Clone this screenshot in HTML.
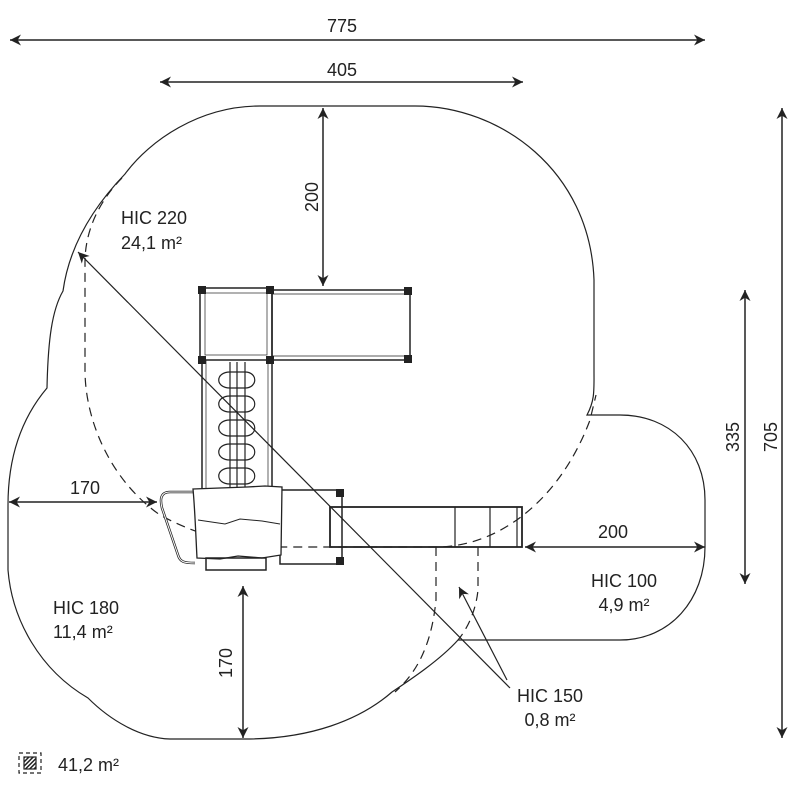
<!DOCTYPE html>
<html><head><meta charset="utf-8"><style>
html,body{margin:0;padding:0;background:#fff;}
svg{display:block;}
text{font-family:"Liberation Sans",sans-serif;fill:#222;}
</style></head><body>
<svg width="798" height="798" viewBox="0 0 798 798" xmlns="http://www.w3.org/2000/svg">
<defs>
<marker id="a" viewBox="0 0 10 10" refX="10" refY="5" markerWidth="13" markerHeight="11" orient="auto-start-reverse" markerUnits="userSpaceOnUse"><path d="M0,0 L10,5 L0,10 L3,5 z" fill="#222"/></marker>
<pattern id="h" width="3" height="3" patternUnits="userSpaceOnUse" patternTransform="rotate(45)"><rect width="1.5" height="3" fill="#222"/></pattern>
</defs>
<g fill="none" stroke="#222" stroke-width="1.2">
<path d="M587,415 C595,400 594,390 594,370 L594,280 C590,170 500,106 415,106 L260,106 C200,106 150,140 125,174 C100,200 70,240 63,291 C52,310 48,340 47,388 C20,420 8,460 8,505 L8,570 C12,620 40,670 88,698 C110,720 140,738 170,739 L245,739 C310,739 360,720 392,692 C410,680 440,660 458,640 L620,640 C670,640 705,600 705,547 L705,500 C705,450 670,415 620,415 Z"/>
<g stroke-dasharray="9,6">
<path d="M122,178 C100,200 85,230 85,262 L85,370 C85,420 110,480 160,515 C200,537 240,545 280,547 L440,547 C500,545 560,500 590,420 L596,395"/>
<path d="M436,547 L436,600 C432,640 420,670 395,692"/>
<path d="M478,547 L478,590 C476,610 468,628 458,640"/>
</g>
<g stroke-width="1.5">
<rect x="200" y="288" width="72" height="72"/>
<rect x="205" y="293" width="62" height="62" stroke-width="0.7"/>
<rect x="272" y="290" width="138" height="70"/>
<line x1="272" y1="294" x2="410" y2="294" stroke-width="0.7"/>
<line x1="272" y1="356" x2="410" y2="356" stroke-width="0.7"/>
<line x1="202" y1="360" x2="202" y2="490"/>
<line x1="272" y1="360" x2="272" y2="490"/>
<line x1="206" y1="360" x2="206" y2="490" stroke-width="0.7"/>
<line x1="268" y1="360" x2="268" y2="490" stroke-width="0.7"/>
</g>
<g stroke-width="1.2">
<line x1="230" y1="362" x2="230" y2="487"/><line x1="237" y1="362" x2="237" y2="487"/><line x1="245" y1="362" x2="245" y2="487"/>
<path d="M230,372 C215,372 215,388 230,388 L245,388 C258,388 258,372 245,372 Z M230,396 C215,396 215,412 230,412 L245,412 C258,412 258,396 245,396 Z M230,420 C215,420 215,436 230,436 L245,436 C258,436 258,420 245,420 Z M230,444 C215,444 215,460 230,460 L245,460 C258,460 258,444 245,444 Z M230,468 C215,468 215,484 230,484 L245,484 C258,484 258,468 245,468 Z"/>
</g>
<g fill="#222" stroke="none">
<rect x="198" y="286" width="8" height="8"/><rect x="266" y="286" width="8" height="8"/>
<rect x="198" y="356" width="8" height="8"/><rect x="266" y="356" width="8" height="8"/>
<rect x="404" y="287" width="8" height="8"/><rect x="404" y="355" width="8" height="8"/>
<rect x="336" y="489" width="8" height="8"/><rect x="336" y="557" width="8" height="8"/>
</g>
<rect x="280" y="490" width="62" height="74" stroke-width="1.5"/>
<rect x="330" y="507" width="192" height="40" stroke-width="1.8"/>
<line x1="455" y1="507" x2="455" y2="547"/><line x1="490" y1="507" x2="490" y2="547"/><line x1="517" y1="507" x2="517" y2="547"/>
<path d="M195,492 L170,492 C160,492 160,500 162,508 L178,555 C180,562 184,563 195,563" stroke-width="2.5"/>
<path d="M195,492 L170,492 C160,492 160,500 162,508 L178,555 C180,562 184,563 195,563" stroke="#fff" stroke-width="1"/>
<path d="M193,489 L247,487 L265,486 L282,487 L281,555 L262,558 L238,556 L220,559 L197,558 C196,540 195,510 193,489 Z" fill="#fff" stroke-width="1.3"/>
<path d="M198,520 L225,524 L240,519 L262,521 L280,524" stroke-width="1"/>
<rect x="206" y="558" width="60" height="12" stroke-width="1.5"/>
<line x1="510" y1="688" x2="78" y2="252" marker-end="url(#a)"/>
<line x1="507" y1="680" x2="459" y2="587" marker-end="url(#a)"/>
<g stroke-width="1.5">
<line x1="10" y1="40" x2="705" y2="40" marker-start="url(#a)" marker-end="url(#a)"/>
<line x1="160" y1="82" x2="523" y2="82" marker-start="url(#a)" marker-end="url(#a)"/>
<line x1="323" y1="108" x2="323" y2="286" marker-start="url(#a)" marker-end="url(#a)"/>
<line x1="745" y1="290" x2="745" y2="584" marker-start="url(#a)" marker-end="url(#a)"/>
<line x1="782" y1="108" x2="782" y2="738" marker-start="url(#a)" marker-end="url(#a)"/>
<line x1="9" y1="502" x2="157" y2="502" marker-start="url(#a)" marker-end="url(#a)"/>
<line x1="525" y1="547" x2="705" y2="547" marker-start="url(#a)" marker-end="url(#a)"/>
<line x1="243" y1="586" x2="243" y2="738" marker-start="url(#a)" marker-end="url(#a)"/>
</g>
<rect x="19" y="753" width="22" height="20" stroke-dasharray="4,3"/>
<rect x="24" y="757" width="12" height="12" fill="url(#h)"/>
</g>
<g font-size="18">
<text x="342" y="32" text-anchor="middle">775</text>
<text x="342" y="76" text-anchor="middle">405</text>
<text x="312" y="197" text-anchor="middle" transform="rotate(-90 312 197)" dy="6">200</text>
<text x="733" y="437" text-anchor="middle" transform="rotate(-90 733 437)" dy="6">335</text>
<text x="771" y="437" text-anchor="middle" transform="rotate(-90 771 437)" dy="6">705</text>
<text x="226" y="663" text-anchor="middle" transform="rotate(-90 226 663)" dy="6">170</text>
<text x="85" y="494" text-anchor="middle">170</text>
<text x="613" y="538" text-anchor="middle">200</text>
<text x="121" y="224">HIC 220</text>
<text x="121" y="249">24,1 m²</text>
<text x="53" y="614">HIC 180</text>
<text x="53" y="638">11,4 m²</text>
<text x="624" y="587" text-anchor="middle">HIC 100</text>
<text x="624" y="611" text-anchor="middle">4,9 m²</text>
<text x="550" y="702" text-anchor="middle">HIC 150</text>
<text x="550" y="726" text-anchor="middle">0,8 m²</text>
<text x="58" y="771">41,2 m²</text>
</g>
</svg>
</body></html>
